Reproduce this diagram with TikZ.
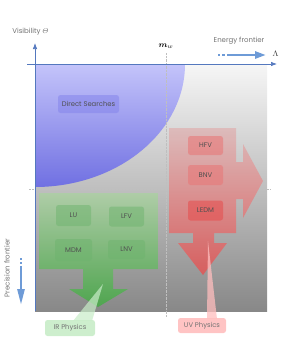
\documentclass[tikz,border=0pt]{standalone}
\usepackage{amsmath}
\usepackage{fontspec}
\setmainfont{Poppins}
\usetikzlibrary{arrows.meta}
\definecolor{axisblue}{RGB}{84,120,190}
\definecolor{frontblue}{RGB}{110,155,215}
\definecolor{txtgray}{RGB}{80,80,80}
\definecolor{labgray}{RGB}{115,115,115}
\definecolor{gtop}{RGB}{170,210,160}
\definecolor{gbot}{RGB}{60,175,60}
\definecolor{rtop}{RGB}{222,180,180}
\definecolor{rbot}{RGB}{230,80,80}
\definecolor{btop}{RGB}{196,196,250}
\definecolor{bbot}{RGB}{112,112,226}
\definecolor{gboxc}{RGB}{110,180,110}
\definecolor{rboxc}{RGB}{232,120,120}
\definecolor{bboxc}{RGB}{130,130,235}
\definecolor{irfill}{RGB}{200,236,200}
\definecolor{uvfill}{RGB}{255,190,190}
\tikzset{
  lab/.style={font=\fontsize{7}{8}\selectfont, text=labgray, inner sep=0pt},
  gbox/.style={rounded corners=2.5pt, fill=gboxc, fill opacity=0.5, text opacity=1, text=txtgray, font=\fontsize{6.8}{8}\selectfont, minimum width=35pt, minimum height=21pt, inner sep=0pt},
  rbox/.style={gbox, fill=rboxc, fill opacity=0.6, minimum height=19pt},
  guide/.style={gray!50, densely dotted, line width=0.4pt},
}
\begin{document}
\begin{tikzpicture}[x=1pt,y=-1pt]
\useasboundingbox (0,0) rectangle (283,343);
% background box
\shade[top color={rgb,255:red,246;green,246;blue,246}, bottom color={rgb,255:red,136;green,136;blue,136}] (35,64) rectangle (267,311);
% direct searches region
\shade[top color=btop, bottom color=bbot] (35,64) -- (185,64) arc[start angle=0, end angle=-90, x radius=150pt, y radius=123pt] -- cycle;
% guides
\draw[guide] (29,189) -- (270,189);
\draw[guide] (166,53) -- (166,317);
% green region
\shade[top color=gtop, bottom color=gbot, opacity=0.75] (39,193) -- (158,193) -- (158,269) -- (113,269) -- (113,289) -- (128,289) -- (98,307) -- (69,289) -- (83,289) -- (83,269) -- (39,269) -- cycle;
% red region
\shade[top color=rtop, bottom color=rbot, opacity=0.8] (169,128) -- (236,128) -- (236,162) -- (243,162) -- (243,144) -- (263,181) -- (243,218) -- (243,199) -- (236,199) -- (236,233) -- (214,233) -- (214,243) -- (227,243) -- (203,275) -- (178,243) -- (193,243) -- (193,233) -- (169,233) -- cycle;
% pointers
\fill[irfill, opacity=0.7] (73,321) -- (103,284) -- (92,321) -- cycle;
\fill[uvfill, opacity=0.75] (207,319) -- (208,241) -- (217,319) -- cycle;
% labels
\node[gbox, fill=bboxc, minimum width=61pt, minimum height=18pt] (ds) at (88.5,104) {Direct Searches};
\node[gbox] (lu) at (73.5,215.5) {LU};
\node[gbox, minimum height=20pt] (lfv) at (126.5,216.5) {LFV};
\node[gbox, minimum width=37pt, minimum height=22pt] (mdm) at (73.5,250) {MDM};
\node[gbox, minimum width=37pt, minimum height=19pt] (lnv) at (126.5,249.5) {LNV};
\node[rbox] (hfv) at (205.5,145.5) {HFV};
\node[rbox, minimum height=20pt] (bnv) at (205.5,175) {BNV};
\node[rbox, minimum height=20pt, fill=rbot] (ledm) at (205.5,210.5) {LEDM};
\node[gbox, fill=irfill, fill opacity=0.9, text=labgray, minimum width=50pt, minimum height=16pt] (ir) at (70,328) {IR Physics};
\node[gbox, fill=uvfill, fill opacity=0.9, text=labgray, minimum width=48pt, minimum height=15pt] (uv) at (202,325.5) {UV Physics};
% axes
\coordinate (xs) at (27,64); \coordinate (xe) at (277,64);
\coordinate (ys) at (35,311); \coordinate (ye) at (35,43);
\draw[axisblue, line width=0.7pt, -{Latex[length=6pt,width=4.5pt]}] (xs) -- (xe);
\draw[axisblue, line width=0.7pt, -{Latex[length=6pt,width=4.5pt]}] (ys) -- (ye);
% axis labels
\node[lab] (vis) at (30.5,32) {Visibility $\varTheta$};
\node[lab, font=\fontsize{8}{9}\selectfont, text=black!80] (lam) at (275.5,54) {$\Lambda$};
\node[lab, text=black, font=\fontsize{8}{9}\selectfont] (mw) at (166,46) {$\boldsymbol{m}_w$};
\node[lab] (ef) at (239,41) {Energy frontier};
\node[lab, rotate=90] (pf) at (7,268) {Precision frontier};
% energy frontier arrow
\coordinate (ea) at (227,55); \coordinate (eb) at (266,55);
\fill[frontblue] (217.5,53.7) rectangle (220,56.3);
\fill[frontblue] (222,53.7) rectangle (224.5,56.3);
\draw[frontblue, line width=2.6pt, -{Triangle[length=11pt,width=7pt]}] (ea) -- (eb);
% precision frontier arrow
\coordinate (pa) at (21,266); \coordinate (pb) at (21,305);
\fill[frontblue] (19.7,257.5) rectangle (22.3,260);
\fill[frontblue] (19.7,261.5) rectangle (22.3,264);
\draw[frontblue, line width=2.6pt, -{Triangle[length=16pt,width=7pt]}] (pa) -- (pb);
\end{tikzpicture}
\end{document}
